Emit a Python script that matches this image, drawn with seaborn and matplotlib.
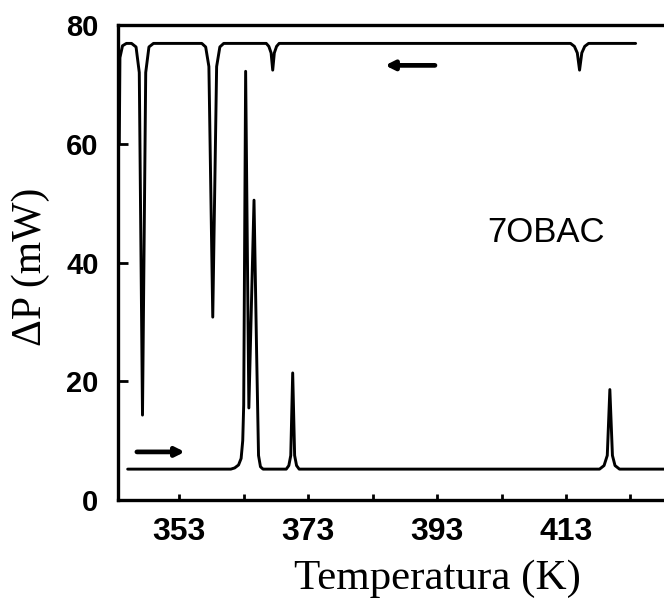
import matplotlib
matplotlib.use("Agg")
import matplotlib.pyplot as plt
import seaborn as sns
import pandas as pd

# DSC trace of 7OBAC: heating run (lower curve) and cooling run (upper curve)
heat_T = [345.0, 361.0, 361.6, 362.2, 362.6, 362.85, 363.0, 363.3, 363.8, 364.6,
          365.0, 365.3, 365.6, 366.0, 369.6, 370.0, 370.3, 370.6, 370.9, 371.2,
          371.6, 418.2, 418.9, 419.4, 419.8, 420.2, 420.6, 421.3, 428.5]
heat_P = [5.2, 5.2, 5.4, 5.9, 7.0, 10.0, 16.0, 72.2, 15.5, 50.5,
          25.0, 7.5, 5.6, 5.2, 5.2, 5.8, 7.5, 21.4, 7.5, 5.8,
          5.2, 5.2, 5.8, 7.5, 18.6, 7.5, 5.8, 5.2, 5.2]

cool_T = [343.7, 343.8, 344.2, 344.8,
          345.6, 346.3, 346.8, 347.3, 347.8, 348.3, 349.0,
          356.5, 357.1, 357.6, 358.2, 358.8, 359.3, 359.9,
          366.5, 366.9, 367.25, 367.5, 367.75, 368.1, 368.5,
          413.7, 414.3, 414.75, 415.1, 415.45, 415.9, 416.5,
          423.8]
cool_P = [60.0, 74.5, 76.5, 76.9,
          76.9, 76.3, 72.0, 14.3, 72.0, 76.3, 76.9,
          76.9, 76.3, 73.0, 30.8, 73.0, 76.3, 76.9,
          76.9, 76.4, 75.3, 72.4, 75.3, 76.4, 76.9,
          76.9, 76.4, 75.3, 72.4, 75.3, 76.4, 76.9,
          76.9]

x_ticks = [353, 363, 373, 383, 393, 403, 413, 423]
x_labels = ["353", "", "373", "", "393", "", "413", ""]
y_ticks = [0, 20, 40, 60, 80]

heat = pd.DataFrame({"T": heat_T, "P": heat_P})
cool = pd.DataFrame({"T": cool_T, "P": cool_P})

sns.set_theme(style="white")
plt.rcParams["font.family"] = ["Liberation Sans", "DejaVu Sans"]
plt.rcParams["text.color"] = "black"
plt.rcParams["axes.labelcolor"] = "black"
plt.rcParams["xtick.color"] = "black"
plt.rcParams["ytick.color"] = "black"

fig = plt.figure(figsize=(6.64, 5.98), dpi=100)
ax = fig.add_axes([118 / 664, 1 - 500 / 598, 546 / 664, 475 / 598])

sns.lineplot(data=heat, x="T", y="P", ax=ax, color="black", lw=2.1,
             estimator=None, sort=False)
sns.lineplot(data=cool, x="T", y="P", ax=ax, color="black", lw=2.1,
             estimator=None, sort=False)

# direction-of-scan arrows
ax.annotate("", xy=(354.3, 8.1), xytext=(346.0, 8.1),
            arrowprops=dict(arrowstyle="-|>", lw=3.4, color="black",
                            mutation_scale=13))
ax.annotate("", xy=(384.5, 73.2), xytext=(393.1, 73.2),
            arrowprops=dict(arrowstyle="-|>", lw=3.4, color="black",
                            mutation_scale=13))

ax.text(409.9, 45.0, "7OBAC", fontsize=25, ha="center", va="center",
        family="Liberation Sans", color="black")

ax.set_xlim(343.5, 428.2)
ax.set_ylim(0, 80)
ax.set_xticks(x_ticks)
ax.set_xticklabels(x_labels)
ax.set_yticks(y_ticks)

for side in ("left", "top", "bottom"):
    ax.spines[side].set_linewidth(2.4)
    ax.spines[side].set_color("black")
ax.spines["right"].set_visible(False)

ax.tick_params(axis="y", direction="in", length=7, width=2, pad=14,
               labelsize=21, left=True, colors="black")
ax.tick_params(axis="x", direction="in", length=4, width=2, pad=12,
               labelsize=23, bottom=True, colors="black")
for lab in ax.get_xticklabels() + ax.get_yticklabels():
    lab.set_fontweight("bold")

ax.set_xlabel("Temperatura (K)", fontsize=31, family="Liberation Serif")
ax.set_ylabel("ΔP (mW)", fontsize=30, family="Liberation Serif")
ax.xaxis.set_label_coords(0.585, -0.125)
ax.yaxis.set_label_coords(-0.125, 0.49)

fig.savefig("out.png", dpi=100)
